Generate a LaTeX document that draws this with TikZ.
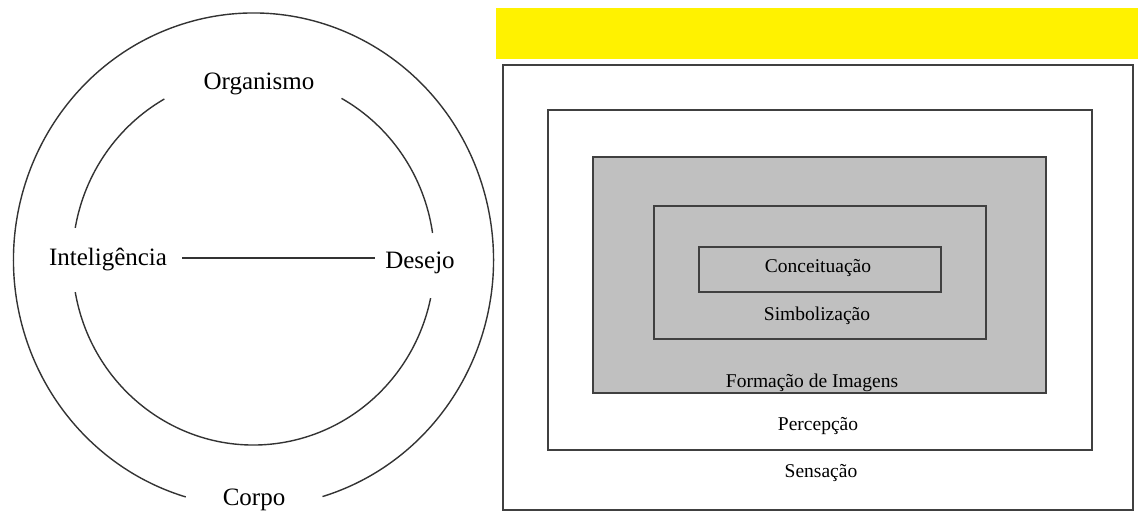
\documentclass[tikz,border=0pt]{standalone}
\usepackage{fontspec}
\setmainfont{Liberation Serif}
\begin{document}
\begin{tikzpicture}[x=1pt,y=1pt,
  ring/.style={draw=black!80,line width=1.4pt},
  box/.style={draw=black!75,line width=1.4pt},
  biglabel/.style={font=\fontsize{25}{30}\selectfont,anchor=base,inner sep=0pt},
  smalllabel/.style={font=\fontsize{19.5}{23}\selectfont,anchor=base,inner sep=0pt}]
\useasboundingbox (0,0) rectangle (1138,512);
% ---- left: circles ----
\coordinate (c) at (253.5,252);
\draw[ring] (c) ++(-73.3:240 and 247) arc[start angle=-73.3,end angle=253.6,x radius=240,y radius=247];
\draw[ring] (c) ++(8.4:181 and 185) arc[start angle=8.4,end angle=60.9,x radius=181,y radius=185];
\draw[ring] (c) ++(119.5:181 and 185) arc[start angle=119.5,end angle=170,x radius=181,y radius=185];
\draw[ring] (c) ++(190:181 and 185) arc[start angle=190,end angle=348.1,x radius=181,y radius=185];
\node[biglabel] (org) at (259,422) {Organismo};
\node[biglabel] (intel) at (108,246) {Inteligência};
\node[biglabel] (desejo) at (420,243) {Desejo};
\node[biglabel] (corpo) at (254,7) {Corpo};
\coordinate (lineL) at (183,254);
\coordinate (lineR) at (375,254);
\draw[ring] (intel.east |- lineL) ++(15,0) coordinate (a1) -- (lineR);
% ---- right: boxes ----
\fill[yellow] (496,453) rectangle (1138,504);
\draw[box] (503,447) rectangle (1133,2);
\draw[box] (548,402) rectangle (1092,62);
\draw[box,fill={rgb,255:red,192;green,192;blue,192}] (593,355) rectangle (1046,119);
\draw[box] (654,306) rectangle (986,173);
\draw[box] (699,265) rectangle (941,220);
\node[smalllabel] (conc) at (818,239) {Conceituação};
\node[smalllabel] (simb) at (817,191) {Simbolização};
\node[smalllabel] (form) at (812,125) {Formação de Imagens};
\node[smalllabel] (perc) at (818,82) {Percepção};
\node[smalllabel] (sens) at (821,35) {Sensação};
\end{tikzpicture}
\end{document}
